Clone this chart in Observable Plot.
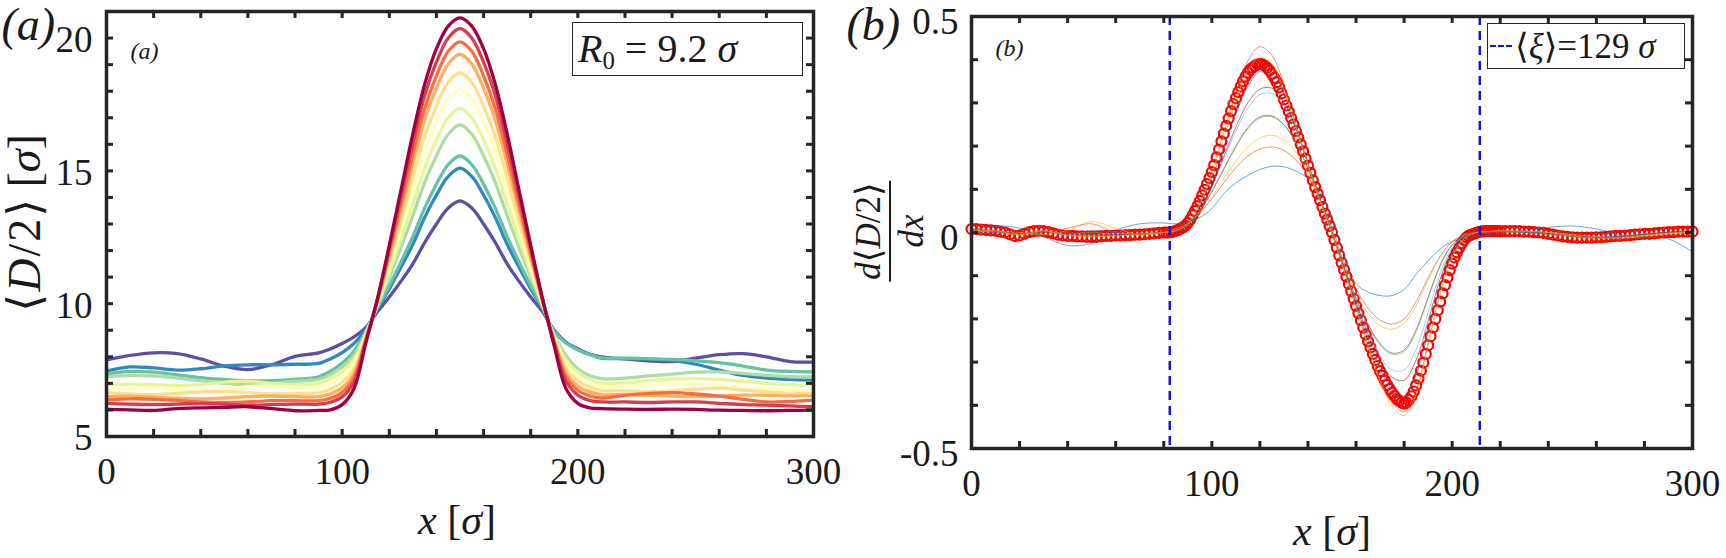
<!DOCTYPE html>
<html><head><meta charset="utf-8">
<script src="https://cdn.jsdelivr.net/npm/d3@7"></script>
<script src="https://cdn.jsdelivr.net/npm/@observablehq/plot@0.6"></script>
<style>
html,body{margin:0;padding:0;background:#fff;overflow:hidden;}
#wrap{position:relative;width:1726px;height:558px;font-family:'Liberation Serif','Times New Roman','DejaVu Serif',serif;color:#1a1a1a;}
.pl{position:absolute;top:0;}
.lbl{position:absolute;white-space:nowrap;line-height:1.15;}
.box{position:absolute;border:1.6px solid #262626;background:#fff;box-sizing:border-box;white-space:nowrap;line-height:1;display:flex;align-items:center;}
sub{font-size:0.62em;vertical-align:-0.28em;line-height:0;}
</style></head><body><div id="wrap"></div>
<script>
// ---------- Panel (a): <D/2> profiles ----------
const X_A = [0,10,20,30,40,50,60,70,80,90,95,100,105,110,115,120,125,130,135,140,145,150,155,160,165,170,175,180,185,190,195,200,205,210,220,230,240,250,260,270,280,290,300];
const A1 = [6.02,6.0,5.98,6.05,6.08,6.1,6.12,6.05,5.97,5.98, 6.0,6.2,6.8,8.5, 10.2,12.2,14.3,16.4,18.25,19.6,20.45,20.76,20.45,19.6,18.25,16.4,14.3,12.2,10.2, 8.4,6.8,6.25,6.08, 6.05,6.03,6.02,6.03,6.02,5.99,5.98,5.97,5.98,5.99];
const A2 = [6.25,6.22,6.2,6.22,6.25,6.22,6.18,6.2,6.22,6.22, 6.29,6.49,7.05,8.57, 10.17,12.07,14.05,16.04,17.83,19.09,20.0,20.36,20.0,19.09,17.83,16.04,14.05,12.07,10.17, 8.5,7.08,6.56,6.36, 6.3,6.3,6.28,6.3,6.3,6.25,6.2,6.18,6.15,6.12];
const A3 = [6.38,6.42,6.4,6.36,6.3,6.28,6.3,6.35,6.35,6.35, 6.44,6.66,7.21,8.62, 10.15,11.92,13.77,15.63,17.35,18.58,19.5,19.86,19.5,18.58,17.35,15.63,13.77,11.92,10.15, 8.56,7.25,6.74,6.53, 6.45,6.55,6.62,6.65,6.6,6.52,6.4,6.3,6.32,6.37];
const A4 = [6.5,6.52,6.48,6.44,6.42,6.45,6.5,6.52,6.5,6.5, 6.61,6.84,7.37,8.67, 10.12,11.77,13.51,15.26,16.91,18.12,19.02,19.39,19.02,18.12,16.91,15.26,13.51,11.77,10.12, 8.61,7.39,6.9,6.68, 6.58,6.58,6.55,6.52,6.5,6.52,6.56,6.55,6.53,6.53];
const A5 = [6.65,6.6,6.58,6.62,6.68,6.7,6.65,6.6,6.62,6.65, 6.78,7.04,7.55,8.73, 10.07,11.57,13.13,14.73,16.28,17.44,18.34,18.7,18.34,17.44,16.28,14.73,13.13,11.57,10.07, 8.67,7.57,7.1,6.86, 6.74,6.72,6.7,6.72,6.78,6.82,6.75,6.68,6.63,6.62];
const A6 = [6.8,6.82,6.85,6.78,6.72,6.78,6.88,6.9,6.85,6.85, 7.0,7.26,7.75,8.79, 10.03,11.38,12.8,14.26,15.72,16.83,17.71,18.07,17.71,16.83,15.72,14.26,12.8,11.38,10.03, 8.71,7.72,7.26,7.01, 6.87,6.9,6.95,6.99,6.97,6.9,6.82,6.78,6.75,6.74];
const A7 = [6.95,6.97,6.95,6.92,6.95,7.05,7.08,7.0,6.95,7.0, 7.17,7.44,7.91,8.85, 9.98,11.17,12.44,13.75,15.1,16.16,17.0,17.36,17.0,16.16,15.1,13.75,12.44,11.17,9.98, 8.76,7.87,7.42,7.16, 7.0,7.02,7.1,7.16,7.18,7.15,7.08,7.0,6.95,6.93];
const A8 = [7.25,7.3,7.28,7.2,7.1,7.0,6.95,7.0,7.08,7.15, 7.33,7.61,8.05,8.89, 9.94,11.0,12.13,13.31,14.56,15.57,16.38,16.73,16.38,15.57,14.56,13.31,12.13,11.0,9.94, 8.82,8.04,7.55,7.3, 7.18,7.2,7.28,7.35,7.42,7.43,7.38,7.3,7.25,7.24];
const A9 = [7.35,7.45,7.42,7.32,7.22,7.15,7.1,7.1,7.15,7.25, 7.46,7.77,8.21,8.95, 9.85,10.68,11.58,12.53,13.6,14.5,15.24,15.56,15.24,14.5,13.6,12.53,11.58,10.68,9.85, 8.95,8.52,8.26,8.08, 7.96,7.95,7.93,7.9,7.85,7.78,7.65,7.5,7.45,7.43];
const A10 = [7.46,7.62,7.58,7.5,7.55,7.66,7.7,7.7,7.72,7.75, 7.92,8.16,8.5,9.02, 9.81,10.56,11.38,12.24,13.24,14.09,14.79,15.1,14.79,14.09,13.24,12.24,11.38,10.56,9.81, 8.96,8.54,8.28,8.09, 7.95,7.93,7.9,7.87,7.72,7.5,7.3,7.2,7.15,7.12];
const A11 = [7.88,8.05,8.15,8.12,7.92,7.65,7.52,7.7,8.02,8.15, 8.3,8.5,8.75,9.1, 9.7,10.25,10.85,11.5,12.3,13.0,13.6,13.87,13.6,13.0,12.3,11.5,10.85,10.25,9.7, 9.0,8.55,8.3,8.1, 8.0,7.92,7.85,7.82,7.95,8.08,8.12,8.0,7.82,7.8];
const A_SERIES = [A1,A2,A3,A4,A5,A6,A7,A8,A9,A10,A11];
const A_COLORS = ["#9e0142","#d53e4f","#f46d43","#fdae61","#fee08b","#ffffbf","#e6f598","#abdda4","#66c2a5","#3288bd","#5e4fa2"];
const XA_TICKS = [0,100,200,300];
const YA_TICKS = [5,10,15,20];
const X_MINOR = [20,40,60,80,100,120,140,160,180,200,220,240,260,280];
const YA_MINOR = [6,7,8,9,10,11,12,13,14,15,16,17,18,19,20];

// ---------- Panel (b): derivative ----------
const X_B = [0,10,20,30,40,50,60,70,80,85,90,95,100,105,110,115,120,125,130,135,140,145,150,155,160,165,170,175,180,185,190,195,200,205,210,215,220,230,240,250,260,270,280,290,300];
const B1 = [0.005,0.015,0.01,-0.01,-0.03,-0.025,0.005,0.02,0.022, 0.02,0.025,0.035,0.055,0.09,0.115,0.132,0.146,0.153,0.152,0.142,0.125,0.09,0.035,-0.05,-0.118,-0.138,-0.146,-0.146,-0.132,-0.097,-0.065,-0.038,-0.021,-0.013,-0.008,-0.005, -0.003,0.005,0.012,0.015,0.008,-0.005,-0.01,-0.015,-0.045];
const B2 = [0.005,0.0,-0.005,0.0,0.01,0.02,0.0,-0.005,0.0, 0.01,0.022,0.045,0.078,0.115,0.15,0.177,0.193,0.198,0.19,0.168,0.13,0.075,0.01,-0.07,-0.13,-0.175,-0.203,-0.212,-0.2,-0.16,-0.105,-0.055,-0.022,-0.006,0.0,0.002, 0.002,0.0,-0.005,-0.008,-0.01,-0.015,-0.01,-0.005,0.0];
const B3 = [0.0,0.003,0.0,-0.005,0.005,0.025,0.01,-0.005,0.0, 0.008,0.02,0.045,0.082,0.125,0.165,0.198,0.219,0.225,0.214,0.185,0.137,0.075,0.005,-0.075,-0.14,-0.188,-0.216,-0.224,-0.21,-0.17,-0.11,-0.055,-0.02,-0.005,0.0,0.002, 0.003,0.002,0.0,-0.005,-0.01,-0.012,-0.008,-0.003,0.002];
const B4 = [0.003,0.0,-0.003,0.0,-0.005,0.005,0.0,-0.003,0.0, 0.006,0.02,0.05,0.095,0.148,0.2,0.243,0.268,0.27,0.25,0.208,0.148,0.077,0.0,-0.08,-0.152,-0.212,-0.257,-0.279,-0.272,-0.225,-0.15,-0.075,-0.028,-0.007,0.0,0.002, 0.003,0.0,-0.003,-0.008,-0.012,-0.008,-0.005,0.0,0.003];
const B5 = [0.004,0.002,-0.004,0.002,-0.003,0.0,-0.004,-0.002,0.0, 0.005,0.018,0.048,0.093,0.146,0.198,0.24,0.265,0.268,0.249,0.207,0.147,0.076,-0.002,-0.082,-0.155,-0.215,-0.26,-0.282,-0.276,-0.23,-0.152,-0.078,-0.03,-0.008,0.0,0.002, 0.002,0.0,-0.004,-0.01,-0.012,-0.01,-0.004,0.0,0.002];
const B6 = [0.004,0.002,-0.003,0.003,-0.004,-0.006,-0.004,-0.002,0.0, 0.004,0.018,0.052,0.105,0.17,0.235,0.288,0.319,0.322,0.293,0.235,0.158,0.078,0.0,-0.082,-0.16,-0.23,-0.285,-0.318,-0.318,-0.27,-0.185,-0.095,-0.035,-0.009,0.0,0.002, 0.003,0.002,0.0,-0.006,-0.01,-0.008,-0.003,0.0,0.003];
const B7 = [0.006,0.003,-0.002,0.002,-0.003,-0.005,-0.005,-0.003,0.0, 0.004,0.018,0.054,0.108,0.176,0.244,0.3,0.332,0.334,0.302,0.24,0.16,0.078,0.0,-0.083,-0.163,-0.236,-0.297,-0.335,-0.342,-0.295,-0.205,-0.108,-0.04,-0.01,0.0,0.002, 0.002,0.002,-0.002,-0.007,-0.011,-0.009,-0.004,0.001,0.004];
const B8 = [0.007,0.004,-0.004,0.004,-0.005,-0.008,-0.006,-0.003,0.001, 0.004,0.02,0.062,0.125,0.2,0.275,0.338,0.373,0.368,0.322,0.245,0.16,0.077,0.0,-0.085,-0.168,-0.248,-0.315,-0.362,-0.378,-0.33,-0.232,-0.128,-0.05,-0.012,0.0,0.002, 0.003,0.001,-0.001,-0.009,-0.012,-0.01,-0.005,0.0,0.002];
const B9 = [0.008,0.005,-0.006,0.005,-0.007,-0.009,-0.007,-0.004,0.0, 0.004,0.022,0.07,0.142,0.232,0.322,0.397,0.43,0.41,0.343,0.25,0.158,0.075,-0.002,-0.088,-0.175,-0.262,-0.34,-0.395,-0.415,-0.365,-0.255,-0.14,-0.055,-0.013,0.0,0.002, 0.003,0.002,0.001,-0.01,-0.014,-0.011,-0.006,-0.001,0.003];
const B10 = [0.005,0.004,-0.005,0.004,-0.006,-0.01,-0.008,-0.004,0.0, 0.004,0.02,0.066,0.135,0.22,0.305,0.375,0.405,0.39,0.33,0.245,0.157,0.075,-0.002,-0.088,-0.176,-0.265,-0.345,-0.402,-0.424,-0.375,-0.262,-0.145,-0.057,-0.014,0.0,0.002, 0.004,0.003,0.0,-0.008,-0.013,-0.012,-0.007,-0.002,0.002];
const B_SERIES = [B1,B2,B3,B4,B5,B6,B7,B8,B9,B10];
const B_COLORS = ["#0072BD","#D95319","#EDB120","#7E2F8E","#77AC30","#4DBEEE","#A2142F","#0072BD","#D95319","#EDB120"];
// thick red circle series: x = 0..78 step 2, 80..220 step 1, 222..300 step 2
const RED_L = [0.008,0.008,0.007,0.006,0.005,0.004,0.002,0.0,-0.004,-0.008,-0.007,-0.003,0.001,0.003,0.004,0.003,0.001,-0.002,-0.005,-0.007,-0.008,-0.008,-0.009,-0.009,-0.010,-0.010,-0.010,-0.009,-0.008,-0.008,-0.007,-0.007,-0.006,-0.006,-0.005,-0.005,-0.004,-0.003,-0.002,-0.001];
const RED_M = [0.000,0.000,0.000,0.001,0.002,0.004,0.006,0.009,0.012,0.016,
 0.022,0.030,0.040,0.050,0.061,0.073,0.086,0.099,0.112,0.126,
 0.140,0.156,0.174,0.192,0.211,0.229,0.247,0.264,0.281,0.297,
 0.311,0.325,0.338,0.350,0.361,0.370,0.377,0.382,0.386,0.389,
 0.390,0.389,0.386,0.381,0.375,0.367,0.358,0.348,0.336,0.322,
 0.308,0.294,0.280,0.265,0.250,0.235,0.220,0.204,0.188,0.171,
 0.155,0.138,0.121,0.105,0.090,0.075,0.059,0.044,0.030,0.015,
 0.000,-0.017,-0.035,-0.053,-0.070,-0.086,-0.102,-0.119,-0.136,-0.153,
 -0.170,-0.187,-0.203,-0.220,-0.236,-0.252,-0.266,-0.281,-0.295,-0.309,
 -0.321,-0.332,-0.343,-0.353,-0.362,-0.371,-0.378,-0.385,-0.390,-0.394,
 -0.396,-0.394,-0.388,-0.379,-0.368,-0.354,-0.338,-0.320,-0.301,-0.281,
 -0.261,-0.240,-0.220,-0.200,-0.180,-0.160,-0.141,-0.122,-0.104,-0.087,
 -0.072,-0.058,-0.046,-0.035,-0.025,-0.017,-0.011,-0.007,-0.005,-0.003,
 -0.001,0.001,0.002,0.003,0.003,0.003,0.003,0.003,0.003,0.003,
 0.003];
const RED_R = [0.003,0.003,0.003,0.003,0.002,0.002,0.001,0.0,-0.001,-0.003,-0.005,-0.007,-0.009,-0.010,-0.011,-0.012,-0.012,-0.012,-0.012,-0.011,-0.011,-0.010,-0.009,-0.008,-0.008,-0.007,-0.006,-0.005,-0.004,-0.003,-0.003,-0.002,-0.001,0.0,0.001,0.001,0.002,0.002,0.002,0.002];
const XI_LINES = [82.5, 211.5];
const XB_TICKS = [0,100,200,300];
const YB_TICKS = [-0.5,0,0.5];
const YB_MINOR = [-0.4,-0.3,-0.2,-0.1,0,0.1,0.2,0.3,0.4];

// ---------- helpers ----------
const zip = (xs, vs) => vs.map((v, i) => ({x: xs[i], v}));
const FONT = "'Liberation Serif','Times New Roman','DejaVu Serif',serif";
const FRAME = "#262626";
const TICK = 7;
const H = 558;
const wrap = document.getElementById("wrap");

// ---------- Plot (a) ----------
const WA = 840, mA = {top: 11, right: 27, bottom: 122, left: 106};
const ihA = H - mA.top - mA.bottom, iwA = WA - mA.left - mA.right;
const plotA = Plot.plot({
  width: WA, height: H,
  marginTop: mA.top, marginRight: mA.right, marginBottom: mA.bottom, marginLeft: mA.left,
  style: {fontFamily: FONT, fontSize: "37px", color: "#1a1a1a", background: "transparent", overflow: "visible"},
  x: {domain: [0, 300]},
  y: {domain: [5, 21]},
  marks: [
    ...A_SERIES.map((s, i) => ({s, c: A_COLORS[i]})).reverse().map(({s, c}) =>
      Plot.line(zip(X_A, s), {x: "x", y: "v", stroke: c, strokeWidth: 3.3, curve: "catmull-rom"})),
    Plot.ruleX(X_MINOR, {stroke: FRAME, strokeWidth: 3, insetTop: ihA - TICK}),
    Plot.ruleX(X_MINOR, {stroke: FRAME, strokeWidth: 3, insetBottom: ihA - TICK}),
    Plot.ruleY(YA_MINOR, {stroke: FRAME, strokeWidth: 3, insetRight: iwA - TICK}),
    Plot.ruleY(YA_MINOR, {stroke: FRAME, strokeWidth: 3, insetLeft: iwA - TICK}),
    Plot.frame({stroke: FRAME, strokeWidth: 3.5}),
    Plot.axisX({ticks: XA_TICKS, tickSize: 0, tickPadding: 21, tickFormat: d => String(d), label: null, fontSize: 37}),
    Plot.axisY({ticks: YA_TICKS, tickSize: 0, tickPadding: 14, dy: 2, tickFormat: d => String(d), label: null, fontSize: 37}),
    Plot.text(["(a)"], {text: d => d, frameAnchor: "top-left", dx: 1 - mA.left, dy: 7 - mA.top, textAnchor: "start", lineAnchor: "top", fontSize: 46, fontStyle: "italic"}),
    Plot.text(["(a)"], {text: d => d, frameAnchor: "top-left", dx: 24, dy: 30, textAnchor: "start", lineAnchor: "top", fontSize: 24, fontStyle: "italic"})
  ]
});
plotA.classList.add("pl"); plotA.style.left = "0px";
wrap.appendChild(plotA);

// ---------- Plot (b) ----------
const WB = 886, mB = {top: 16, right: 34, bottom: 110, left: 131};
const ihB = H - mB.top - mB.bottom, iwB = WB - mB.left - mB.right;
const redData = [
  ...RED_L.map((v, i) => ({x: i * 2, v})),
  ...RED_M.map((v, i) => ({x: 80 + i, v})),
  ...RED_R.map((v, i) => ({x: 222 + i * 2, v}))
];
const plotB = Plot.plot({
  width: WB, height: H,
  marginTop: mB.top, marginRight: mB.right, marginBottom: mB.bottom, marginLeft: mB.left,
  style: {fontFamily: FONT, fontSize: "37px", color: "#1a1a1a", background: "transparent", overflow: "visible"},
  x: {domain: [0, 300]},
  y: {domain: [-0.5, 0.5]},
  marks: [
    Plot.dot(redData, {x: "x", y: "v", r: 5, stroke: "#ff0000", strokeWidth: 2.2, fill: "none"}),
    ...B_SERIES.map((s, i) =>
      Plot.line(zip(X_B, s), {x: "x", y: "v", stroke: B_COLORS[i], strokeWidth: 1, strokeOpacity: 0.6, curve: "catmull-rom"})),
    Plot.ruleX(XI_LINES, {stroke: "#1616c8", strokeWidth: 2.5, strokeDasharray: "9,6"}),
    Plot.ruleX(X_MINOR, {stroke: FRAME, strokeWidth: 3, insetTop: ihB - TICK}),
    Plot.ruleX(X_MINOR, {stroke: FRAME, strokeWidth: 3, insetBottom: ihB - TICK}),
    Plot.ruleY(YB_MINOR, {stroke: FRAME, strokeWidth: 3, insetRight: iwB - TICK}),
    Plot.ruleY(YB_MINOR, {stroke: FRAME, strokeWidth: 3, insetLeft: iwB - TICK}),
    Plot.frame({stroke: FRAME, strokeWidth: 3.5}),
    Plot.axisX({ticks: XB_TICKS, tickSize: 0, tickPadding: 21, tickFormat: d => String(d), label: null, fontSize: 37}),
    Plot.axisY({ticks: YB_TICKS, tickSize: 0, tickPadding: 13, dy: 6, tickFormat: d => String(d), label: null, fontSize: 37}),
    Plot.text(["(b)"], {text: d => d, frameAnchor: "top-left", dx: 6 - mB.left, dy: 7 - mB.top, textAnchor: "start", lineAnchor: "top", fontSize: 46, fontStyle: "italic"}),
    Plot.text(["(b)"], {text: d => d, frameAnchor: "top-left", dx: 24, dy: 22, textAnchor: "start", lineAnchor: "top", fontSize: 24, fontStyle: "italic"})
  ]
});
plotB.classList.add("pl"); plotB.style.left = "840px";
wrap.appendChild(plotB);

// ---------- axis titles and legends (rich math text) ----------
function label(html, cx, cy, size, rot) {
  const d = document.createElement("div");
  d.className = "lbl";
  d.innerHTML = html;
  d.style.left = cx + "px"; d.style.top = cy + "px"; d.style.fontSize = size + "px";
  d.style.transform = "translate(-50%,-50%)" + (rot ? ` rotate(${rot}deg)` : "");
  wrap.appendChild(d);
  return d;
}
label("<i>x</i>&nbsp;[<i>σ</i>]", 457, 520, 42);
label("<span style='letter-spacing:2px'>⟨<i>D</i>/2⟩</span>&thinsp;[<i>σ</i>]", 25, 223, 46, -90);
label("<i>x</i>&nbsp;[<i>σ</i>]", 1332, 531, 42);
label(`<div style="display:inline-flex;flex-direction:column;align-items:center;line-height:1">
  <span style="padding:0 2px 3px;border-bottom:2px solid #1a1a1a"><i>d</i>⟨<i>D</i>/2⟩</span>
  <span style="padding-top:3px"><i>dx</i></span></div>`, 889, 231, 35, -90);

function box(html, left, top, w, h, size, pad) {
  const d = document.createElement("div");
  d.className = "box";
  d.innerHTML = html;
  Object.assign(d.style, {left: left + "px", top: top + "px", width: w + "px", height: h + "px", fontSize: size + "px", paddingLeft: pad + "px"});
  wrap.appendChild(d);
}
box("<span><i>R</i><sub>0</sub>&nbsp;=&nbsp;9.2&nbsp;<i>σ</i></span>", 572, 22, 231, 54, 40, 5);
box(`<span style="display:inline-block;width:22px;border-top:2.5px dashed #1616c8;margin-right:3px"></span><span>⟨<i>ξ</i>⟩=129&nbsp;<i>σ</i></span>`, 1487, 23, 198, 46, 35, 2);
</script></body></html>
